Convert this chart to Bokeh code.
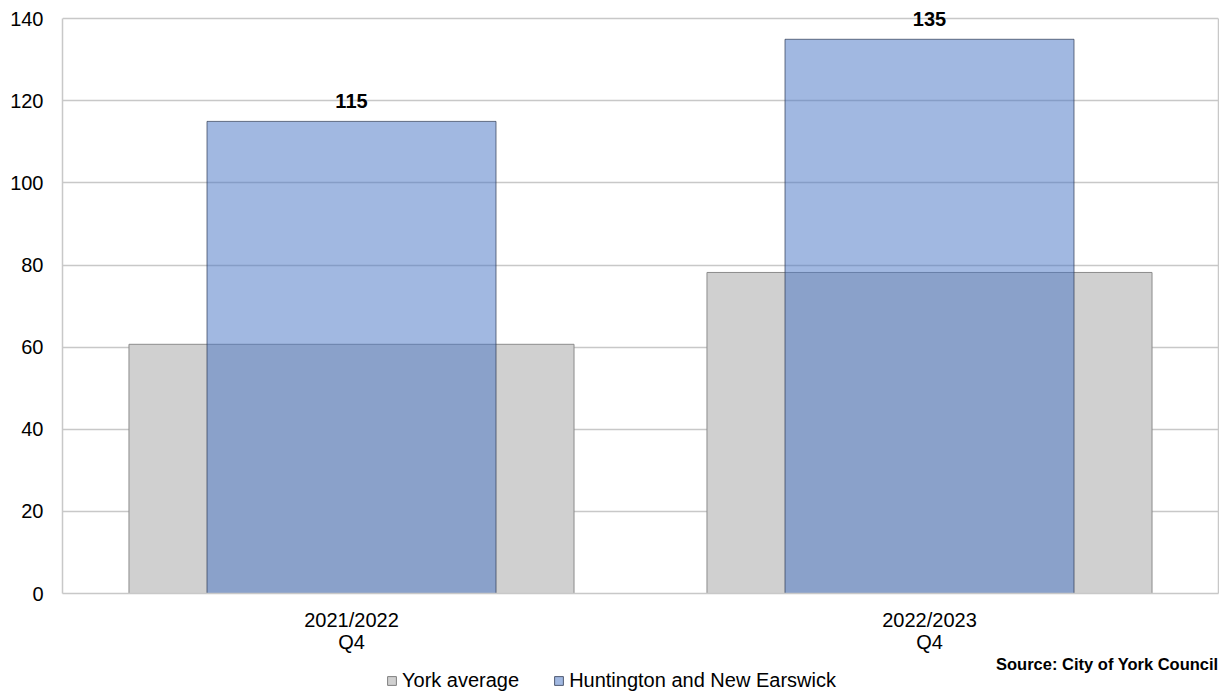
from bokeh.plotting import figure
from bokeh.layouts import column
from bokeh.models import (ColumnDataSource, FactorRange, Range1d, FixedTicker,
                          Legend, LegendItem, LabelSet, Label, LinearAxis)
from bokeh.core.properties import value
from bokeh.embed import file_html
from bokeh.resources import INLINE

# ---- data ----
periods = ["2021/2022\nQ4", "2022/2023\nQ4"]
york_average = [60.7, 78.2]
huntington = [115, 135]
series_names = ["York average", "Huntington and New Earswick"]
y_ticks = [0, 20, 40, 60, 80, 100, 120, 140]
source_note = "Source: City of York Council"

FONT = "Liberation Sans"
GRID = "#c8c8c8"
YORK_FILL, YORK_LINE = "#d0d0d0", "#8c8c8c"
HUNT_FILL, HUNT_LINE = "#4472c4", "#2e3a52"

src = ColumnDataSource(dict(
    period=periods,
    york=york_average,
    hunt=huntington,
    hunt_lbl=[str(v) for v in huntington],
))

xr = FactorRange(*periods, range_padding=0)

p = figure(width=1219, height=655, output_backend="svg", toolbar_location=None,
           x_range=xr, y_range=Range1d(0, 142.5),
           min_border_left=62, min_border_right=1, min_border_top=8,
           min_border_bottom=60)
p.background_fill_color = "white"
p.border_fill_color = "white"
p.outline_line_color = None

p.vbar(x="period", top="york", width=0.77, source=src,
       fill_color=YORK_FILL, line_color=YORK_LINE, line_width=1)
p.vbar(x="period", top="hunt", width=0.5, source=src,
       fill_color=HUNT_FILL, fill_alpha=0.5,
       line_color=HUNT_LINE, line_alpha=0.7, line_width=1)

p.add_layout(LabelSet(x="period", y="hunt", text="hunt_lbl", source=src,
                      text_align="center", text_baseline="alphabetic", y_offset=13,
                      text_font=value(FONT), text_font_size=value("20px"),
                      text_font_style="bold", text_color="#000000"))

# axes
p.yaxis.ticker = FixedTicker(ticks=y_ticks)
p.yaxis.bounds = (0, 140)
p.yaxis.axis_line_color = GRID
p.yaxis.axis_line_width = 1.5
p.yaxis.major_tick_line_color = None
p.yaxis.minor_tick_line_color = None
p.yaxis.major_tick_out = 0
p.yaxis.minor_tick_out = 0
p.yaxis.major_label_standoff = 19
p.yaxis.major_label_text_font = FONT
p.yaxis.major_label_text_font_size = "20px"
p.yaxis.major_label_text_color = "#000000"

right_axis = LinearAxis(ticker=FixedTicker(ticks=[]), bounds=(0, 140),
                        axis_line_color=GRID, axis_line_width=1.5,
                        major_tick_line_color=None, minor_tick_line_color=None,
                        major_tick_out=0, minor_tick_out=0,
                        major_label_standoff=0, major_label_text_font_size="0px")
p.add_layout(right_axis, "right")

p.xaxis.axis_line_color = GRID
p.xaxis.axis_line_width = 1.5
p.xaxis.major_tick_line_color = None
p.xaxis.minor_tick_line_color = None
p.xaxis.major_tick_out = 0
p.xaxis.minor_tick_out = 0
p.xaxis.major_label_standoff = 15
p.xaxis.major_label_text_font = FONT
p.xaxis.major_label_text_font_size = "20px"
p.xaxis.major_label_text_line_height = 1.0
p.xaxis.major_label_text_color = "#000000"

p.xgrid.grid_line_color = None
p.ygrid.grid_line_color = GRID
p.ygrid.grid_line_width = 1.5

# ---- footer: source note + legend (frame aligned with the chart frame) ----
f = figure(width=1219, height=36, output_backend="svg", toolbar_location=None,
           x_range=xr, y_range=Range1d(-2, -1),
           x_axis_location=None, y_axis_location=None,
           min_border_left=0, min_border_right=0, min_border_top=0,
           min_border_bottom=0)
f.outline_line_color = None
f.xgrid.grid_line_color = None
f.ygrid.grid_line_color = None
f.background_fill_color = "white"

# hidden copies of the two series: they only supply the legend swatches
leg_york = f.vbar(x="period", top="york", width=0.77, source=src,
                  fill_color=YORK_FILL, line_color="#7f7f7f", line_width=1,
                  visible=False)
leg_hunt = f.vbar(x="period", top="hunt", width=0.5, source=src,
                  fill_color=HUNT_FILL, fill_alpha=0.5,
                  line_color=HUNT_LINE, line_alpha=0.8, line_width=1,
                  visible=False)

f.add_layout(Label(x=1156, y=28, x_units="screen", y_units="screen",
                   text=source_note, text_align="right", text_baseline="middle",
                   text_font=FONT, text_font_size="16.5px",
                   text_font_style="bold", text_color="#000000"))

legend = Legend(items=[LegendItem(label=series_names[0], renderers=[leg_york]),
                       LegendItem(label=series_names[1], renderers=[leg_hunt])],
                orientation="horizontal", location=(324, -1),
                glyph_width=11, glyph_height=11, label_standoff=5, spacing=34,
                padding=0, margin=0, border_line_color=None,
                background_fill_alpha=0, inactive_fill_alpha=0,
                label_text_font=FONT, label_text_font_size="20px",
                label_text_color="#000000", label_height=20)
f.add_layout(legend, "center")

page = column(p, f, spacing=0)
open("out.html", "w").write(file_html(page, INLINE))
